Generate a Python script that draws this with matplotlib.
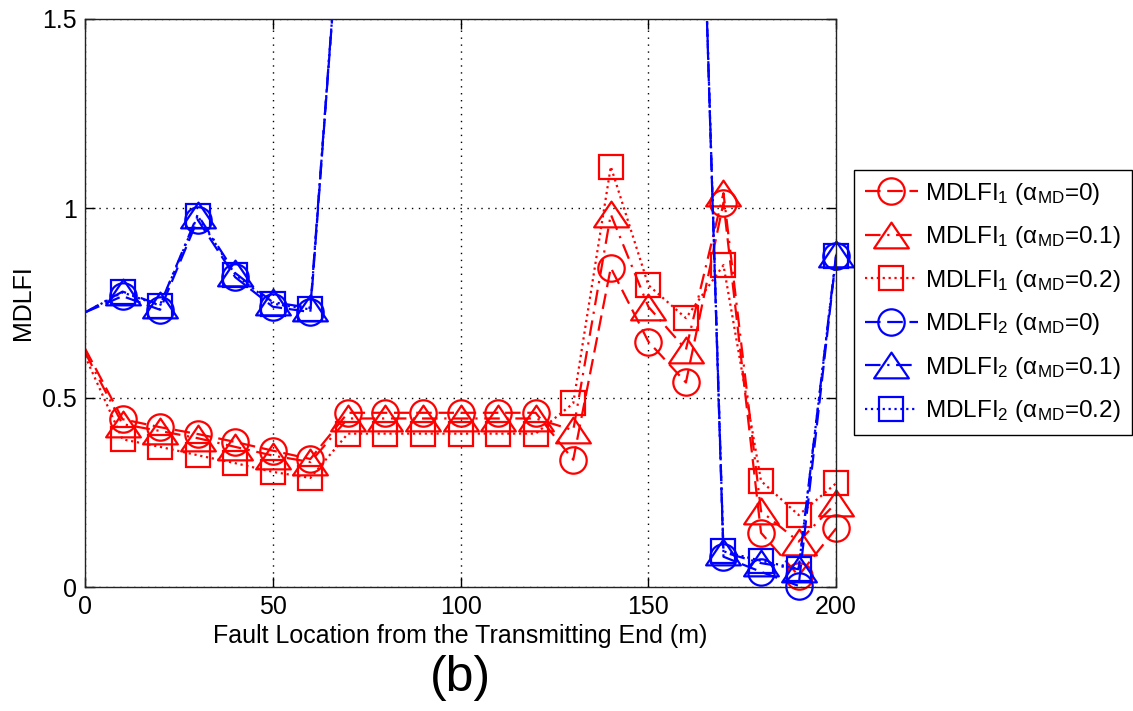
import numpy as np
import matplotlib
matplotlib.use('Agg')
import matplotlib.pyplot as plt
from matplotlib.lines import Line2D
from matplotlib.path import Path

plt.rcParams['font.family'] = ['Liberation Sans', 'DejaVu Sans']
plt.rcParams['mathtext.fontset'] = 'custom'
plt.rcParams['mathtext.rm'] = 'Liberation Sans'
plt.rcParams['mathtext.it'] = 'Liberation Sans'
plt.rcParams['mathtext.default'] = 'regular'

fault_loc = np.arange(0, 201, 10)

# MDLFI_1 for alpha_MD = 0, 0.1, 0.2
mdlfi1_a0 = [0.63, 0.443, 0.422, 0.404, 0.383, 0.36, 0.338, 0.46, 0.46, 0.46, 0.46,
             0.46, 0.46, 0.336, 0.843, 0.648, 0.54, 1.015, 0.143, 0.03, 0.155]
mdlfi1_a01 = [0.62, 0.43, 0.412, 0.393, 0.37, 0.347, 0.33, 0.445, 0.445, 0.445, 0.445,
              0.445, 0.445, 0.414, 0.984, 0.74, 0.627, 1.04, 0.2, 0.12, 0.222]
mdlfi1_a02 = [0.61, 0.39, 0.37, 0.348, 0.327, 0.304, 0.288, 0.405, 0.405, 0.405, 0.405,
              0.405, 0.405, 0.485, 1.11, 0.797, 0.71, 0.85, 0.28, 0.19, 0.274]

# MDLFI_2 for alpha_MD = 0, 0.1, 0.2 (70..160 m lies above the plotted range)
mdlfi2_a0 = [0.725, 0.768, 0.732, 0.97, 0.818, 0.74, 0.726, 2.06, 2.4, 2.7, 2.9,
             3.1, 3.2, 3.3, 3.4, 3.4, 3.3, 0.08, 0.04, 0.003, 0.875]
mdlfi2_a01 = [0.725, 0.78, 0.745, 0.983, 0.829, 0.752, 0.737, 2.06, 2.4, 2.7, 2.9,
              3.1, 3.2, 3.3, 3.4, 3.4, 3.3, 0.092, 0.063, 0.047, 0.878]
mdlfi2_a02 = [0.725, 0.778, 0.743, 0.98, 0.825, 0.748, 0.733, 2.06, 2.4, 2.7, 2.9,
              3.1, 3.2, 3.3, 3.4, 3.4, 3.3, 0.094, 0.069, 0.048, 0.875]

labels = [r'MDLFI$_1$ ($\alpha_{MD}$=0)', r'MDLFI$_1$ ($\alpha_{MD}$=0.1)',
          r'MDLFI$_1$ ($\alpha_{MD}$=0.2)', r'MDLFI$_2$ ($\alpha_{MD}$=0)',
          r'MDLFI$_2$ ($\alpha_{MD}$=0.1)', r'MDLFI$_2$ ($\alpha_{MD}$=0.2)']

# wide, flat triangle like matlab's '^'
tri = Path([(0, 1), (-1.35, -1), (1.35, -1), (0, 1)],
           [Path.MOVETO, Path.LINETO, Path.LINETO, Path.CLOSEPOLY])

dashed = (0, (7, 3))
dashdot = (0, (7, 3, 1, 3))
styles = [
    ('#ff0000', dashed, 'o', 19),
    ('#ff0000', dashdot, tri, 25),
    ('#ff0000', ':', 's', 17),
    ('#0000ff', dashed, 'o', 19),
    ('#0000ff', dashdot, tri, 25),
    ('#0000ff', ':', 's', 17),
]
series = [mdlfi1_a0, mdlfi1_a01, mdlfi1_a02, mdlfi2_a0, mdlfi2_a01, mdlfi2_a02]

fig = plt.figure(figsize=(11.33, 7.11), dpi=100)
ax = fig.add_axes([0.075, 0.1744, 0.663, 0.799])

ymax = 1.5
handles = []
for vals, (col, ls, mk, ms), lab in zip(series, styles, labels):
    vals = np.array(vals, dtype=float)
    ax.plot(fault_loc, vals, color=col, ls=ls, lw=1.6)
    # markers are not clipped at the axes edge, only the lines are
    mvals = np.where(vals <= ymax, vals, np.nan)
    ax.plot(fault_loc[1:], mvals[1:], ls='none', marker=mk, ms=ms, mfc='none',
            mec=col, mew=1.6, clip_on=False)
    handles.append(Line2D([], [], color=col, ls=ls, lw=1.6, marker=mk, ms=ms,
                          mfc='none', mec=col, mew=1.6))

ax.set_xlim(0, 200)
ax.set_ylim(0, 1.5)
ax.set_xticks([0, 50, 100, 150, 200])
ax.set_yticks([0, 0.5, 1, 1.5])
ax.set_yticklabels(['0', '0.5', '1', '1.5'])
ax.tick_params(direction='in', length=7, width=1, labelsize=18,
               top=True, right=True, pad=6)
ax.grid(True, color='k', ls=(0, (1, 4)), lw=1)
for s in ax.spines.values():
    s.set_linewidth(1)
    s.set_color('#222222')

ax.set_xlabel('Fault Location from the Transmitting End (m)', fontsize=18, labelpad=3)
ax.set_ylabel('MDLFI', fontsize=18, labelpad=5)

leg = fig.legend(handles, labels, loc='upper right', bbox_to_anchor=(0.999, 0.761),
                 fontsize=17.5, numpoints=1, handlelength=2.2, handletextpad=0.3,
                 labelspacing=0.72, borderpad=0.45, borderaxespad=0, fancybox=False,
                 framealpha=1, edgecolor='k')
leg.get_frame().set_linewidth(1)

fig.text(0.406, 0.047, '(b)', fontsize=36, ha='center', va='center')

fig.savefig('out.png', dpi=100)
